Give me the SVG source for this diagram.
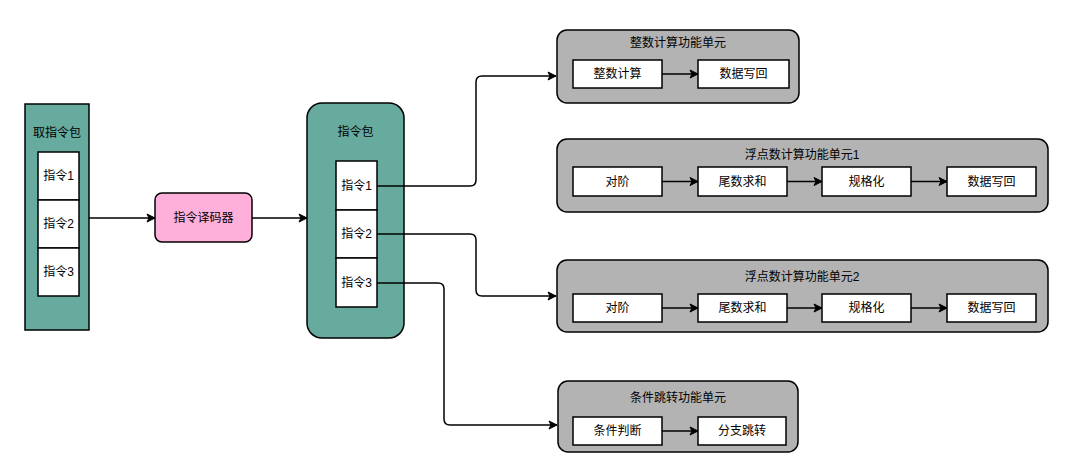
<svg xmlns="http://www.w3.org/2000/svg" width="1068" height="460" viewBox="0 0 1068 460">
<style>
text{font-family:"Liberation Sans","Noto Sans CJK SC",sans-serif;font-size:12px;fill:#000;text-anchor:middle;dominant-baseline:central}
.g{fill:#67AB9F;stroke:#000;stroke-width:1.5}
.w{fill:#fff;stroke:#000;stroke-width:1.5}
.u{fill:#B3B3B3;stroke:#000;stroke-width:1.5}
.c{fill:none;stroke:#000;stroke-width:1.5;marker-end:url(#a)}
</style>
<defs>
<marker id="a" markerWidth="10" markerHeight="10" refX="9" refY="5" orient="auto" markerUnits="userSpaceOnUse">
<path d="M1,1 L9,5 L1,9 L3,5 Z" fill="#000" stroke="#000" stroke-width="1"/>
</marker>
</defs>
<rect width="1068" height="460" fill="#fff"/>
<g id="fetch">
<rect class="g" x="25" y="104" width="64" height="226"/>
<text x="57" y="133">取指令包</text>
<rect class="w" x="38" y="152" width="41" height="48"/>
<text x="58.5" y="176">指令1</text>
<rect class="w" x="38" y="200" width="41" height="48"/>
<text x="58.5" y="224">指令2</text>
<rect class="w" x="38" y="248" width="41" height="48"/>
<text x="58.5" y="272">指令3</text>
</g>
<g id="decoder">
<rect x="155" y="193" width="97" height="49" rx="7" fill="#FFB0DA" stroke="#000" stroke-width="1.5"/>
<text x="203.5" y="217.5">指令译码器</text>
</g>
<g id="pack">
<rect class="g" x="307" y="103" width="97" height="235" rx="15"/>
<text x="355.5" y="132">指令包</text>
<rect class="w" x="336" y="161" width="41" height="49"/>
<text x="356.5" y="185.5">指令1</text>
<rect class="w" x="336" y="210" width="41" height="48"/>
<text x="356.5" y="234">指令2</text>
<rect class="w" x="336" y="258" width="41" height="49"/>
<text x="356.5" y="282.5">指令3</text>
</g>
<g id="int-unit">
<rect class="u" x="557" y="30" width="242" height="73" rx="10"/>
<text x="678" y="43">整数计算功能单元</text>
<rect class="w" x="573" y="60" width="89" height="28"/>
<text x="617.5" y="74">整数计算</text>
<rect class="w" x="698" y="60" width="91" height="28"/>
<text x="743.5" y="74">数据写回</text>
</g>
<g id="fp-unit1">
<rect class="u" x="557" y="139" width="491" height="73" rx="10"/>
<text x="802" y="155">浮点数计算功能单元1</text>
<rect class="w" x="573" y="167" width="89" height="29"/>
<text x="617.5" y="181.5">对阶</text>
<rect class="w" x="698" y="167" width="89" height="29"/>
<text x="742.5" y="181.5">尾数求和</text>
<rect class="w" x="822" y="167" width="89" height="29"/>
<text x="866.5" y="181.5">规格化</text>
<rect class="w" x="947" y="167" width="89" height="29"/>
<text x="991.5" y="181.5">数据写回</text>
</g>
<g id="fp-unit2">
<rect class="u" x="557" y="260" width="491" height="72" rx="10"/>
<text x="802" y="277">浮点数计算功能单元2</text>
<rect class="w" x="573" y="294" width="89" height="28"/>
<text x="617.5" y="308">对阶</text>
<rect class="w" x="698" y="294" width="89" height="28"/>
<text x="742.5" y="308">尾数求和</text>
<rect class="w" x="822" y="294" width="89" height="28"/>
<text x="866.5" y="308">规格化</text>
<rect class="w" x="947" y="294" width="89" height="28"/>
<text x="991.5" y="308">数据写回</text>
</g>
<g id="branch-unit">
<rect class="u" x="558" y="381" width="240" height="71" rx="10"/>
<text x="678" y="398">条件跳转功能单元</text>
<rect class="w" x="573" y="417" width="89" height="28"/>
<text x="617.5" y="431">条件判断</text>
<rect class="w" x="698" y="417" width="88" height="28"/>
<text x="742" y="431">分支跳转</text>
</g>
<g id="connectors">
<path class="c" d="M89,218 H155"/>
<path class="c" d="M252,218 H307"/>
<path class="c" d="M377,186 H470 Q476,186 476,180 V82 Q476,76 482,76 H556"/>
<path class="c" d="M377,234 H470 Q476,234 476,240 V290 Q476,296 482,296 H556"/>
<path class="c" d="M377,283 H438 Q444,283 444,289 V419 Q444,425 450,425 H557"/>
<path class="c" d="M662,74 H698"/>
<path class="c" d="M662,181.5 H698"/>
<path class="c" d="M787,181.5 H822"/>
<path class="c" d="M911,181.5 H947"/>
<path class="c" d="M662,308 H698"/>
<path class="c" d="M787,308 H822"/>
<path class="c" d="M911,308 H947"/>
<path class="c" d="M662,431 H698"/>
</g>
</svg>
